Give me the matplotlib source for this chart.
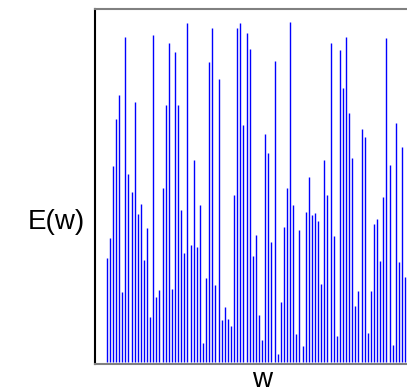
import matplotlib
matplotlib.use("Agg")
import matplotlib.pyplot as plt
import numpy as np

plt.rcParams["font.family"] = ["Liberation Sans", "DejaVu Sans"]

# heights of the spectral lines, left to right (max = 1)
energy = [
    0.306, 0.364, 0.577, 0.714, 0.785, 0.205, 0.955, 0.553, 0.500, 0.763,
    0.435, 0.464, 0.298, 0.392, 0.131, 0.962, 0.191, 0.210, 0.510, 0.756,
    0.937, 0.213, 0.912, 0.755, 0.447, 0.320, 0.998, 0.343, 0.593, 0.337,
    0.461, 0.056, 0.247, 0.883, 0.982, 0.224, 0.831, 0.122, 0.161, 0.126,
    0.105, 0.490, 0.983, 0.997, 0.697, 0.966, 0.921, 0.312, 0.372, 0.136,
    0.064, 0.671, 0.614, 0.351, 0.885, 0.023, 0.176, 0.397, 0.510, 1.000,
    0.461, 0.082, 0.388, 0.047, 0.439, 0.544, 0.432, 0.437, 0.413, 0.228,
    0.594, 0.489, 0.938, 0.370, 0.076, 0.916, 0.804, 0.955, 0.732, 0.600,
    0.165, 0.208, 0.686, 0.661, 0.084, 0.208, 0.405, 0.420, 0.295, 0.483,
    0.952, 0.580, 0.050, 0.703, 0.293, 0.631, 0.249,
]
w = np.arange(1, len(energy) + 1)

fig = plt.figure(figsize=(4.07, 3.92), dpi=100)
# the right edge of the frame falls outside the picture
ax = fig.add_axes([0.2322, 0.0707, 0.793, 0.9056])

ax.vlines(w, 0, energy, colors="blue", linewidth=1.0)

ax.set_xlim(-2.9, 100.9)
ax.set_ylim(-0.008, 1.037)
ax.set_xticks([])
ax.set_yticks([])

ax.spines["left"].set_color("black")
ax.spines["left"].set_linewidth(1.5)
for side in ("top", "bottom", "right"):
    ax.spines[side].set_color("#808080")
    ax.spines[side].set_linewidth(1.5)

fig.text(56 / 407, 1 - 222 / 392, "E(w)", fontsize=20, ha="center", va="center")
fig.text(262 / 407, 1 - 380 / 392, "w", fontsize=20, ha="center", va="center")

fig.savefig("out.png", dpi=100)
